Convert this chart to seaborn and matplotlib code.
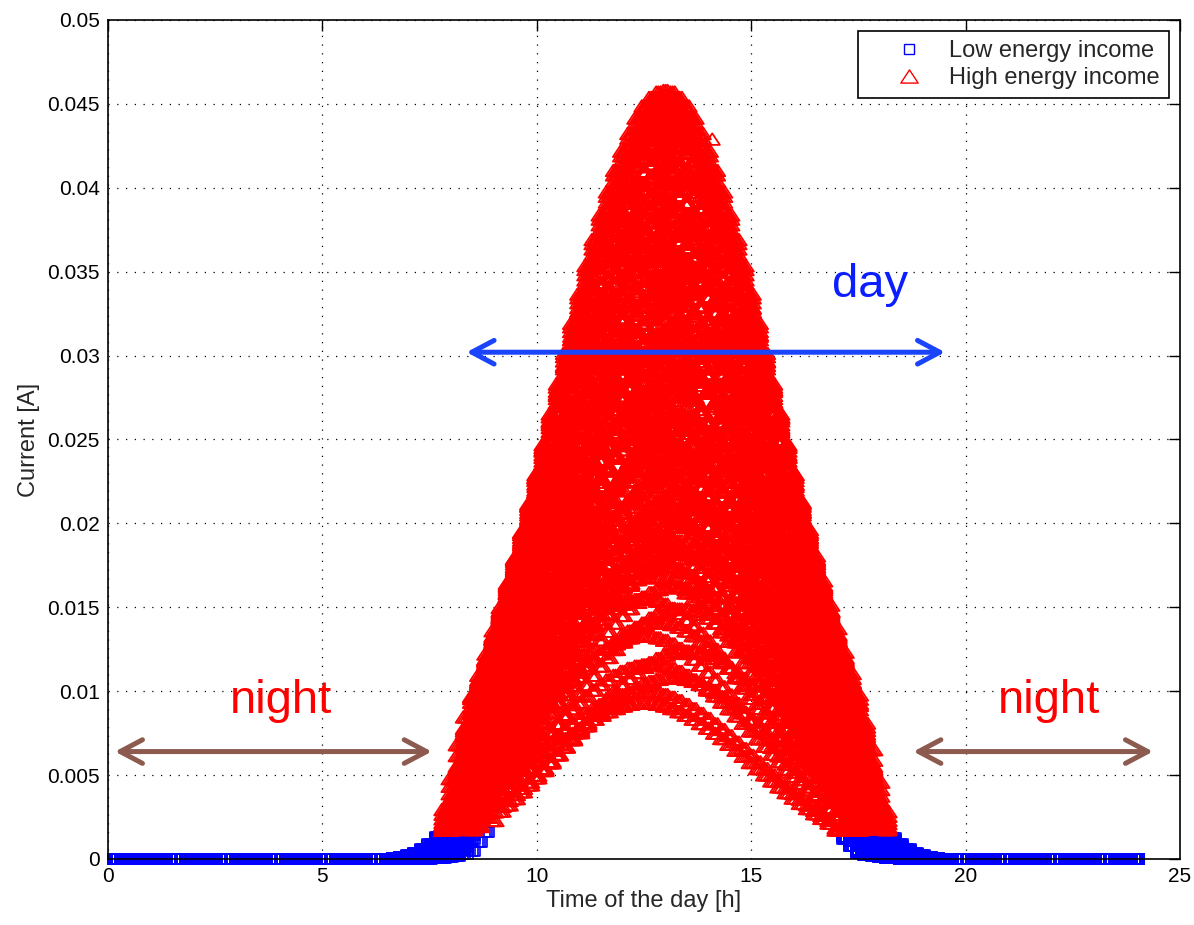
import numpy as np
import pandas as pd
import matplotlib
matplotlib.use("Agg")
import matplotlib.pyplot as plt
from matplotlib.path import Path
from matplotlib.lines import Line2D
from matplotlib.ticker import FixedLocator, FixedFormatter
import seaborn as sns

# ---------------- data ----------------
# logging instants of the day, in minutes after midnight (10-minute logging)
sample_minute = [
    10, 20, 30, 40, 50, 60, 70, 80, 90, 100, 110,
    120, 130, 140, 150, 160, 170, 180, 190, 200, 210, 220, 230,
    240, 250, 260, 270, 280, 290, 300, 310, 320, 330, 340, 350,
    360, 370, 380, 390, 400, 410, 420, 430, 440, 450, 460, 470,
    480, 490, 500, 510, 520, 530, 540, 550, 560, 570, 580, 590,
    600, 610, 620, 630, 640, 650, 660, 670, 680, 690, 700, 710,
    720, 730, 740, 750, 760, 770, 780, 790, 800, 810, 820, 830,
    840, 850, 860, 870, 880, 890, 900, 910, 920, 930, 940, 950,
    960, 970, 980, 990, 1000, 1010, 1020, 1030, 1040, 1050, 1060, 1070,
    1080, 1090, 1100, 1110, 1120, 1130, 1140, 1150, 1160, 1170, 1180, 1190,
    1200, 1210, 1220, 1230, 1240, 1250, 1260, 1270, 1280, 1290, 1300, 1310,
    1320, 1330, 1340, 1350, 1360, 1370, 1380, 1390, 1400, 1410, 1420, 1430,
    1440,
]
# the three loggers read the panel a few minutes apart
logger_offset_minute = [-3, 0, 3]

# relative shape of a day's current (fraction of that day's peak) at each logging instant
day_shape = [
    0, 0, 0, 0, 0, 0, 0, 0, 0, 0, 0, 0, 0,
    0, 0, 0, 0, 0, 0, 0, 0, 0, 0, 0, 0, 0, 0,
    0, 0, 0, 0, 0, 0, 0, 0, 0, 0, 0, 0, 0, 0,
    0.001, 0.003, 0.006, 0.010, 0.016, 0.025, 0.036, 0.080, 0.130, 0.185,
    0.230, 0.260, 0.290, 0.323, 0.356, 0.390, 0.425, 0.462, 0.500, 0.539,
    0.579, 0.618, 0.658, 0.697, 0.735, 0.772, 0.806, 0.838, 0.868, 0.896,
    0.921, 0.944, 0.964, 0.980, 0.991, 0.998,
    1.000,
    0.998, 0.991, 0.980, 0.964, 0.944, 0.921,
    0.896, 0.868, 0.838, 0.806, 0.772, 0.735, 0.697, 0.658, 0.618, 0.579,
    0.539, 0.500, 0.462, 0.425, 0.390, 0.356, 0.323, 0.290, 0.260, 0.230,
    0.185, 0.130, 0.080, 0.036, 0.025, 0.016, 0.010, 0.006, 0.003, 0.001,
    0, 0, 0, 0, 0, 0, 0, 0, 0, 0,
    0, 0, 0, 0, 0, 0, 0, 0, 0, 0,
    0, 0, 0, 0, 0, 0, 0, 0, 0, 0,
]

# peak current of every logged day [A]
day_peak_current = [
    0.0458, 0.0455, 0.0451, 0.0447, 0.0444, 0.0440, 0.0437, 0.0432, 0.0429, 0.0425,
    0.0421, 0.0418, 0.0414, 0.0410, 0.0406, 0.0403, 0.0399, 0.0394, 0.0391, 0.0387,
    0.0383, 0.0380, 0.0375, 0.0372, 0.0368, 0.0364, 0.0360, 0.0357, 0.0352, 0.0349,
    0.0345, 0.0341, 0.0337, 0.0333, 0.0330, 0.0326, 0.0322, 0.0318, 0.0314, 0.0311,
    0.0306, 0.0303, 0.0299, 0.0295, 0.0291, 0.0288, 0.0284, 0.0279, 0.0276, 0.0272,
    0.0268, 0.0264, 0.0261, 0.0256, 0.0253, 0.0249, 0.0245, 0.0241, 0.0238, 0.0233,
    0.0230, 0.0226, 0.0222, 0.0218, 0.0214, 0.0210, 0.0206, 0.0202, 0.0198, 0.0194,
    0.0190, 0.0186, 0.0182, 0.0178, 0.0174,
    0.0168, 0.0162, 0.0155, 0.0149, 0.0141, 0.0133, 0.0124, 0.0116, 0.0108, 0.0100,
    0.0093,
]
# time shift of every day's curve, in logging steps
day_shift = [
    0, 0, 0, 0, 0, 0, 0, 0, 0, 1,
    -1, 0, 1, 0, -1, 1, 0, -1, 0, 1,
    0, -1, 1, 0, -2, 0, 1, -1, 2, 0,
    -1, 1, 0, -2, 1, 0, -1, 2, 0, -1,
    1, 0, -2, 1, -1, 2, 0, -1, 1, -2,
    0, 2, -1, 1, -2, 0, 1, -1, 2, -2,
    1, 0, -1, 2, -2, 1, -1, 0, 2, -2,
    1, -1, 2, -2, 0,
    -2, 1, -3, 2, -1, -3, 3, -2, 1, -3,
    -3,
]

# isolated measurement
outlier_hour = [14.09]
outlier_current = [0.0429]

low_income_limit = 0.0017

x_ticks = [0, 5, 10, 15, 20, 25]
x_tick_labels = ["0", "5", "10", "15", "20", "25"]
y_ticks = [0, 0.005, 0.01, 0.015, 0.02, 0.025, 0.03, 0.035, 0.04, 0.045, 0.05]
y_tick_labels = ["0", "0.005", "0.01", "0.015", "0.02", "0.025", "0.03",
                 "0.035", "0.04", "0.045", "0.05"]

# ---------------- build table ----------------
rows = []
n = len(sample_minute)
for peak, shift in zip(day_peak_current, day_shift):
    for i, m in enumerate(sample_minute):
        j = i - shift
        frac = day_shape[j] if 0 <= j < n else 0.0
        for off in logger_offset_minute:
            rows.append(((m + off) / 60.0, peak * frac))
for h, c in zip(outlier_hour, outlier_current):
    rows.append((h, c))
df = pd.DataFrame(rows, columns=["hour", "current"])
low = df[df["current"] < low_income_limit]
high = df[df["current"] >= low_income_limit]

# ---------------- style ----------------
sns.set_style("white")
plt.rcParams["font.family"] = ["Liberation Sans", "DejaVu Sans"]

tri = Path([(0, 0.76), (-1, -0.76), (1, -0.76), (0, 0.76)],
           [Path.MOVETO, Path.LINETO, Path.LINETO, Path.CLOSEPOLY])

fig = plt.figure(figsize=(11.94, 9.25), dpi=100)
ax = fig.add_axes([0.0905, 0.0714, 0.8978, 0.9070])

sns.scatterplot(data=low, x="hour", y="current", ax=ax, marker="s", s=52,
                color="#0000ff", facecolor="none", edgecolor="#0000ff",
                linewidth=1.2, legend=False, zorder=3, clip_on=False)
sns.scatterplot(data=high, x="hour", y="current", ax=ax, marker=tri, s=120,
                color="#ff0000", facecolor="none", edgecolor="#ff0000",
                linewidth=1.3, legend=False, zorder=4, clip_on=False)

ax.set_xlim(0, 25)
ax.set_ylim(0, 0.05)
ax.xaxis.set_major_locator(FixedLocator(x_ticks))
ax.xaxis.set_major_formatter(FixedFormatter(x_tick_labels))
ax.yaxis.set_major_locator(FixedLocator(y_ticks))
ax.yaxis.set_major_formatter(FixedFormatter(y_tick_labels))
ax.tick_params(direction="in", top=True, right=True, length=8, width=1.0,
               labelsize=15, colors="k", pad=6)
ax.grid(True, color="k", linestyle=(0, (1, 6)), linewidth=0.9)
ax.set_axisbelow(True)
for sp in ax.spines.values():
    sp.set_color("k")
    sp.set_linewidth(1.2)
    sp.set_zorder(5)

ax.set_xlabel("Time of the day [h]", fontsize=17, labelpad=3)
ax.set_ylabel("Current [A]", fontsize=17, labelpad=5)

# annotations
def darrow(x0, x1, y, color):
    ax.annotate("", xy=(x1, y), xytext=(x0, y),
                arrowprops=dict(arrowstyle="<->,head_length=1.6,head_width=0.85",
                                color=color, lw=3.6, shrinkA=0, shrinkB=0,
                                mutation_scale=10, capstyle="round",
                                joinstyle="round"),
                zorder=6)

darrow(8.36, 19.52, 0.0302, "#1a44fb")
darrow(0.16, 7.55, 0.0064, "#8c5a4e")
darrow(18.78, 24.37, 0.0064, "#8c5a4e")
ax.text(17.76, 0.0335, "day", color="#0a1eff", fontsize=34, ha="center",
        va="baseline", zorder=7)
ax.text(4.03, 0.0087, "night", color="#ff0000", fontsize=34, ha="center",
        va="baseline", zorder=7)
ax.text(21.95, 0.0087, "night", color="#ff0000", fontsize=34, ha="center",
        va="baseline", zorder=7)

handles = [
    Line2D([], [], linestyle="none", marker="s", markersize=7.4,
           markerfacecolor="none", markeredgecolor="#0000ff", markeredgewidth=1.0),
    Line2D([], [], linestyle="none", marker=tri, markersize=12.5,
           markerfacecolor="none", markeredgecolor="#ff0000", markeredgewidth=1.0),
]
leg = ax.legend(handles, ["Low energy income", "High energy income"],
                loc="upper right", fontsize=17, frameon=True, fancybox=False,
                edgecolor="k", framealpha=1, borderaxespad=0.45,
                handlelength=3.45, handletextpad=0.0, borderpad=0.4,
                labelspacing=0.2)
leg.get_frame().set_linewidth(1.2)
leg.set_zorder(10)

fig.savefig("out.png", dpi=100)
